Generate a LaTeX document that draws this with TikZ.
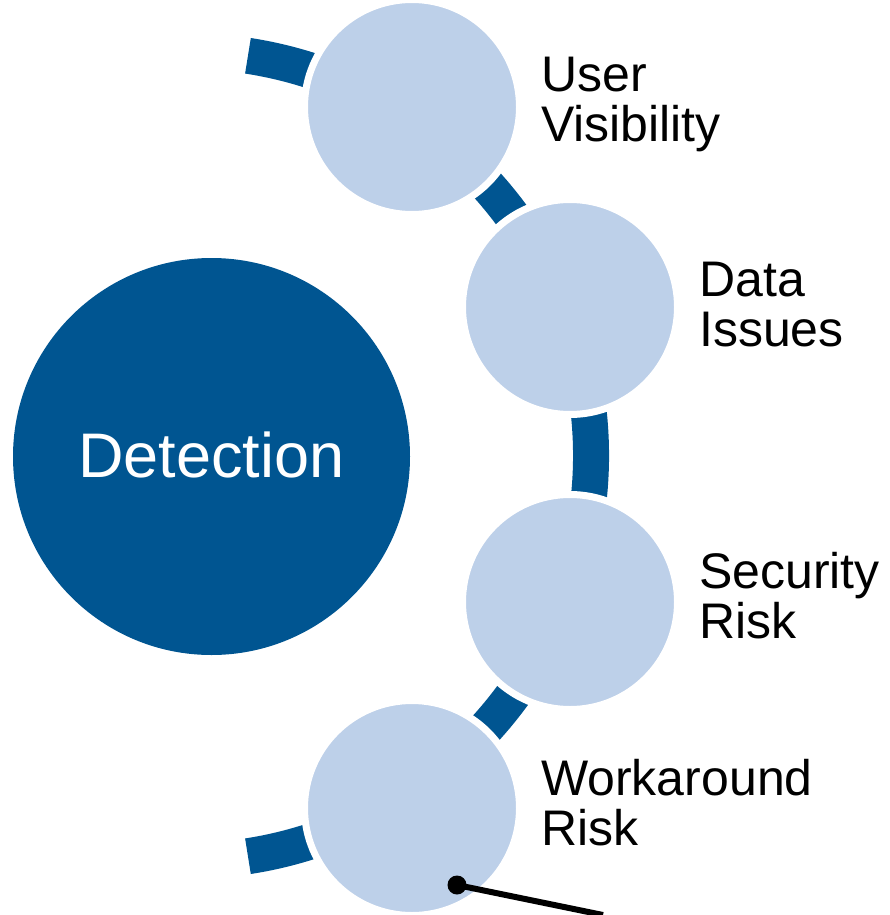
\documentclass[tikz,border=0pt]{standalone}
\usepackage{fontspec}
\setmainfont{Liberation Sans}
\definecolor{darkblue}{RGB}{0,85,145}
\definecolor{lightblue}{RGB}{189,208,233}
\begin{document}
\begin{tikzpicture}
    [%%%%%%%%%%%%%%%%%%%%%%%%%%%%%%
        x=1pt,y=-1pt,
        ring/.style={draw=darkblue,line width=36pt},
        hub/.style={circle,fill=darkblue,inner sep=0,outer sep=0,minimum size=397pt,
            text=white,font=\fontsize{63}{70}\selectfont},
        bubble/.style={circle,fill=lightblue,draw=white,line width=7pt,
            inner sep=0,outer sep=0,minimum size=215pt},
        itemtext/.style={align=left,inner sep=0,anchor=base west,
            font=\fontsize{50}{50}\selectfont},
        pindot/.style={circle,fill=black,inner sep=0,minimum size=19pt}
    ]%%%%%%%%%%%%%%%%%%%%%%%%%%%%%%

\useasboundingbox (0,0) rectangle (889,915);

\draw[ring] (186,456) ++(-81.2:405) arc[start angle=-81.2,end angle=81.2,radius=405];

\node[hub] (detect) at (211.5,456.5) {};
\node[text=white,font=\fontsize{63}{70}\selectfont,inner sep=0,anchor=base west]
    (detect-text) at (78,477) {Detection};

\foreach \nm/\cx/\cy/\tx/\ty/\txt in {user/412/107/541/141/{User\\Visibility},
        data/570/307/699/346/{Data\\Issues},
        security/570/602/699/638/{Security\\Risk},
        work/412/808/541/845/{Workaround\\Risk}}{
    \node[bubble] (\nm) at (\cx,\cy) {};
    \node[itemtext] (\nm-text) at (\tx,\ty) {\txt};
}

\node[pindot] (pin) at (457,885) {};
\coordinate (pinend) at (603,915);
\draw[line width=6pt] (pin.center) -- (pinend);

\end{tikzpicture}
\end{document}
